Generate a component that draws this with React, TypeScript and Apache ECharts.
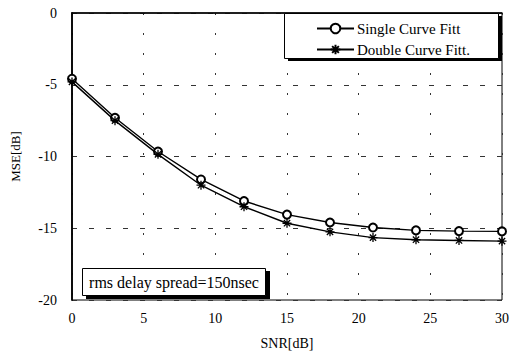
import React, { useEffect, useRef } from "react";
import * as echarts from "echarts";

const snr = [0, 3, 6, 9, 12, 15, 18, 21, 24, 27, 30];
const singleFit = [-4.58, -7.3, -9.65, -11.6, -13.1, -14.05, -14.6, -14.95, -15.15, -15.2, -15.22];
const doubleFit = [-4.8, -7.5, -9.85, -12.0, -13.5, -14.65, -15.25, -15.65, -15.8, -15.85, -15.9];
const seriesNames = ["Single Curve Fitt", "Double Curve Fitt."];
const noteText = "rms delay spread=150nsec";

const FONT = "'Liberation Serif', 'DejaVu Serif', serif";
const STAR = "path://M0,5 L10,5 M5,0 L5,10 M1.5,1.5 L8.5,8.5 M8.5,1.5 L1.5,8.5";

export default function App() {
  const ref = useRef<HTMLDivElement>(null);
  useEffect(() => {
    document.body.style.margin = "0";
    if (!ref.current) return;
    const chart = echarts.init(ref.current, undefined, { renderer: "svg" });
    const pair = (ys: number[]) => snr.map((x, i) => [x, ys[i]]);
    chart.setOption({
      animation: false,
      backgroundColor: "#fff",
      textStyle: { fontFamily: FONT, color: "#000" },
      grid: {
        left: 72,
        right: 11,
        top: 13,
        bottom: 55,
        show: true,
        borderColor: "#000",
        borderWidth: 1,
        backgroundColor: "transparent",
      },
      xAxis: {
        type: "value",
        min: 0,
        max: 30,
        interval: 5,
        name: "SNR[dB]",
        nameLocation: "middle",
        nameGap: 36,
        nameTextStyle: { fontFamily: FONT, fontSize: 14, color: "#000" },
        axisLine: { lineStyle: { color: "#000", width: 1.5 } },
        axisTick: { show: false },
        axisLabel: { fontFamily: FONT, fontSize: 14, color: "#000", margin: 11 },
        splitLine: { show: true, lineStyle: { color: "#333", width: 1, type: [2, 18] } },
      },
      yAxis: {
        type: "value",
        min: -20,
        max: 0,
        interval: 5,
        name: "MSE[dB]",
        nameLocation: "middle",
        nameGap: 50,
        nameRotate: 90,
        nameTextStyle: { fontFamily: FONT, fontSize: 13, color: "#000" },
        axisLine: { onZero: false, lineStyle: { color: "#000", width: 1.8 } },
        axisTick: { show: false },
        axisLabel: { fontFamily: FONT, fontSize: 14, color: "#000", margin: 15 },
        splitLine: { show: true, lineStyle: { color: "#333", width: 1, type: [5, 12] } },
      },
      legend: {
        orient: "vertical",
        left: 311,
        top: 16,
        z: 20,
        itemWidth: 37,
        itemHeight: 12,
        itemGap: 6,
        textStyle: { fontFamily: FONT, fontSize: 15, color: "#000", padding: [0, 0, 0, -2] },
        data: seriesNames,
      },
      graphic: [
        {
          type: "rect",
          z: 10,
          shape: { x: 288, y: 16, width: 214, height: 45 },
          style: { fill: "#000" },
          silent: true,
        },
        {
          type: "rect",
          z: 11,
          shape: { x: 284.5, y: 13.5, width: 214, height: 45 },
          style: { fill: "#fff", stroke: "#000", lineWidth: 1 },
          silent: true,
        },
        {
          type: "rect",
          z: 10,
          shape: { x: 86, y: 271, width: 184, height: 28 },
          style: { fill: "#000" },
          silent: true,
        },
        {
          type: "rect",
          z: 11,
          shape: { x: 82.5, y: 268.5, width: 183, height: 27 },
          style: { fill: "#fff", stroke: "#000", lineWidth: 1 },
          silent: true,
        },
        {
          type: "text",
          z: 12,
          x: 174,
          y: 282,
          style: {
            text: noteText,
            fontFamily: FONT,
            fontSize: 16,
            fill: "#000",
            align: "center",
            verticalAlign: "middle",
          },
          silent: true,
        },
      ],
      series: [
        {
          name: seriesNames[0],
          type: "line",
          data: pair(singleFit),
          symbol: "emptyCircle",
          symbolSize: 8,
          lineStyle: { color: "#000", width: 1.4 },
          itemStyle: { color: "#000", borderColor: "#000", borderWidth: 1.4 },
          z: 5,
        },
        {
          name: seriesNames[1],
          type: "line",
          data: pair(doubleFit),
          symbol: STAR,
          symbolSize: 9,
          lineStyle: { color: "#000", width: 1.4 },
          itemStyle: { color: "#000", borderColor: "#000", borderWidth: 1.3 },
          z: 5,
        },
      ],
    });
    return () => chart.dispose();
  }, []);
  return <div ref={ref} style={{ width: 513, height: 355 }} />;
}
